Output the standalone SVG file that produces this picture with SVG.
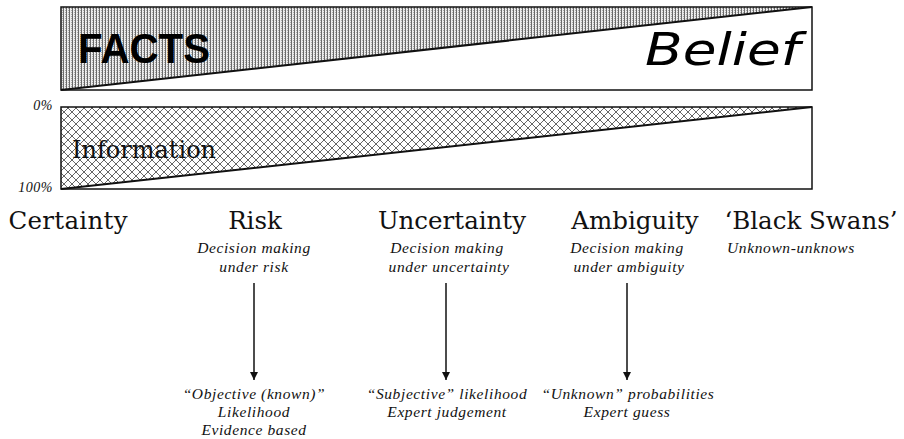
<svg xmlns="http://www.w3.org/2000/svg" width="904" height="439" viewBox="0 0 904 439">
<style>
.main{font-family:"DejaVu Serif","Liberation Serif",serif;font-size:24.5px;fill:#111;text-anchor:middle}
.sub{font-family:"Liberation Serif","Times New Roman",serif;font-style:italic;font-size:15.5px;letter-spacing:0.6px;fill:#111;text-anchor:middle}
.pct{font-family:"Liberation Serif","Times New Roman",serif;font-style:italic;font-size:14px;letter-spacing:0.5px;fill:#111;text-anchor:end}
.box{fill:none;stroke:#111;stroke-width:1.5}
.diag{stroke:#111;stroke-width:2;fill:none}
.conn{stroke:#111;stroke-width:1.5;fill:none;marker-end:url(#arr)}
</style>
<defs>
<pattern id="stip" width="3" height="2" patternUnits="userSpaceOnUse">
<rect width="3" height="2" fill="#ececec"/>
<rect x="0" y="0" width="1" height="2" fill="#6a6a6a"/>
<rect x="2" y="0" width="1" height="1" fill="#aaa"/>
</pattern>
<pattern id="hatch" width="8" height="8" patternUnits="userSpaceOnUse">
<rect width="8" height="8" fill="#fff"/>
<path d="M0,0 L8,8 M8,0 L0,8" stroke="#555" stroke-width="0.9"/>
</pattern>
<marker id="arr" viewBox="0 0 10 10" refX="10" refY="5" markerWidth="8" markerHeight="8" markerUnits="userSpaceOnUse" orient="auto">
<path d="M0,0 L10,5 L0,10 z" fill="#111"/>
</marker>
</defs>
<g id="facts-belief">
<polygon points="61,7 812,7 61,90" fill="url(#stip)"/>
<rect class="box" x="61" y="7" width="751" height="83"/>
<line class="diag" x1="61" y1="90" x2="812" y2="7"/>
<text x="78" y="63" font-family="'Liberation Sans',Arial,sans-serif" font-weight="bold" font-size="42" textLength="132" lengthAdjust="spacingAndGlyphs" fill="#000">FACTS</text>
<text x="645" y="65" font-family="'DejaVu Sans',sans-serif" font-style="italic" font-size="44" textLength="155" lengthAdjust="spacingAndGlyphs" fill="#000">Belief</text>
</g>
<g id="information">
<polygon points="61,107 812,107 61,189" fill="url(#hatch)"/>
<rect class="box" x="61" y="107" width="751" height="82"/>
<line class="diag" x1="61" y1="189" x2="812" y2="107"/>
<text x="72" y="158" font-family="'DejaVu Serif',serif" font-size="24" fill="#111">Information</text>
<text class="pct" x="53" y="110">0%</text>
<text class="pct" x="53" y="192">100%</text>
</g>
<g id="certainty">
<text class="main" x="68" y="229" textLength="119" lengthAdjust="spacing">Certainty</text>
</g>
<g id="risk">
<text class="main" x="255" y="229">Risk</text>
<text class="sub" x="254" y="253">Decision making</text>
<text class="sub" x="254" y="272">under risk</text>
</g>
<g id="uncertainty">
<text class="main" x="452" y="229">Uncertainty</text>
<text class="sub" x="447" y="253">Decision making</text>
<text class="sub" x="449" y="272">under uncertainty</text>
</g>
<g id="ambiguity">
<text class="main" x="635" y="229">Ambiguity</text>
<text class="sub" x="627" y="253">Decision making</text>
<text class="sub" x="629" y="272">under ambiguity</text>
</g>
<g id="black-swans">
<text class="main" x="811" y="229">‘Black Swans’</text>
<text class="sub" x="791" y="253">Unknown-unknows</text>
</g>
<g id="risk-outcome">
<text class="sub" x="254" y="399">“Objective (known)”</text>
<text class="sub" x="254" y="417">Likelihood</text>
<text class="sub" x="254" y="435">Evidence based</text>
</g>
<g id="uncertainty-outcome">
<text class="sub" x="447" y="399">“Subjective” likelihood</text>
<text class="sub" x="447" y="417">Expert judgement</text>
</g>
<g id="ambiguity-outcome">
<text class="sub" x="628" y="399">“Unknown” probabilities</text>
<text class="sub" x="627" y="417">Expert guess</text>
</g>
<g id="connectors">
<line class="conn" x1="254" y1="283" x2="254" y2="380"/>
<line class="conn" x1="446" y1="283" x2="446" y2="380"/>
<line class="conn" x1="627" y1="283" x2="627" y2="380"/>
</g>
</svg>
